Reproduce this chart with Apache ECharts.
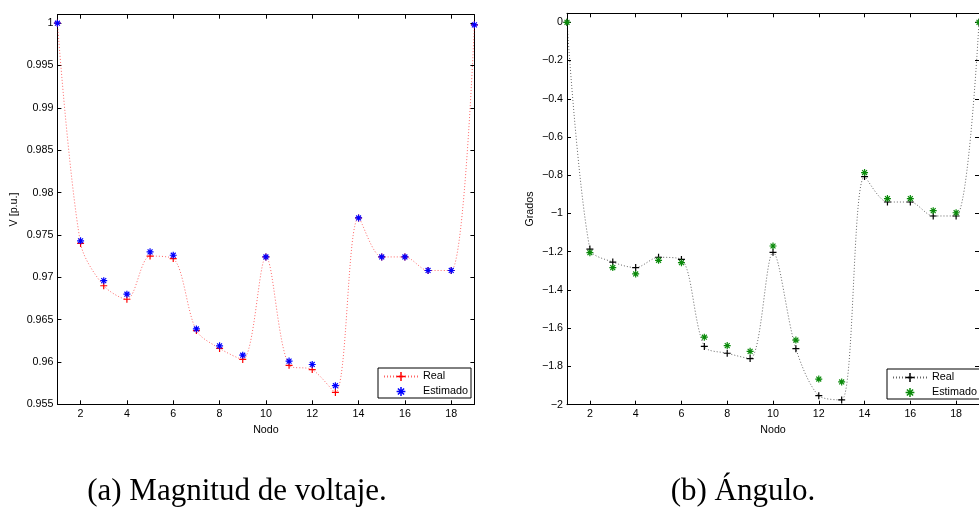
<!DOCTYPE html>
<html><head><meta charset="utf-8">
<script src="https://cdn.jsdelivr.net/npm/echarts@6/dist/echarts.min.js"></script>
<style>html,body{margin:0;padding:0;background:#fff}#c{width:979px;height:508px}</style>
</head><body><div id="c"></div>
<script>
// ---- data ----
const nodes = [1,2,3,4,5,6,7,8,9,10,11,12,13,14,15,16,17,18,19];
const xTicks = [2,4,6,8,10,12,14,16,18];
const vTicks = [0.955,0.96,0.965,0.97,0.975,0.98,0.985,0.99,0.995,1];
const aTicks = [-2,-1.8,-1.6,-1.4,-1.2,-1,-0.8,-0.6,-0.4,-0.2,0];
const vReal = [1.0,0.9740,0.9690,0.9674,0.9725,0.9722,0.9637,0.9616,0.9603,0.9724,0.9596,0.9591,0.9564,0.9770,0.9724,0.9724,0.9708,0.9708,0.9998];
const vEst  = [1.0,0.9743,0.9696,0.9680,0.9730,0.9726,0.9639,0.9619,0.9608,0.9724,0.9601,0.9597,0.9572,0.9770,0.9724,0.9724,0.9708,0.9708,0.9998];
const aReal = [0,-1.186,-1.254,-1.283,-1.229,-1.240,-1.695,-1.731,-1.759,-1.203,-1.707,-1.953,-1.975,-0.807,-0.940,-0.940,-1.013,-1.013,0];
const aEst  = [0,-1.205,-1.283,-1.316,-1.245,-1.257,-1.647,-1.691,-1.721,-1.170,-1.662,-1.866,-1.881,-0.786,-0.922,-0.922,-0.985,-0.996,0];
const seriesNames = ['Real','Estimado'];
const xTitle = 'Nodo';
const yTitles = ['V [p.u.]','Grados'];
const captions = ['(a) Magnitud de voltaje.','(b) Ángulo.'];

// ---- styling ----
const FONT = 'Liberation Sans';
const lbl = {fontFamily: FONT, fontSize: 10.7, color: '#000'};
const PLUS = 'path://M4.15,0L5.85,0L5.85,10L4.15,10ZM0,4.15L10,4.15L10,5.85L0,5.85Z';
const d = 0.6, a = 1.5, b = 8.5;
const STAR = 'path://M4.15,0L5.85,0L5.85,10L4.15,10ZM0,4.15L10,4.15L10,5.85L0,5.85Z' +
  `M${a+d},${a-d}L${b+d},${b-d}L${b-d},${b+d}L${a-d},${a+d}Z` +
  `M${a-d},${b-d}L${b-d},${a-d}L${b+d},${a+d}L${a+d},${b+d}Z`;

const grids = [
  {left: 57.4, top: 14.7, width: 417, height: 389.6},
  {left: 567, top: 13.3, width: 417.5, height: 391.4}
];

function xAx(g, pos) {
  return {
    type: 'value', gridIndex: g, position: pos, min: 1, max: 19,
    axisLine: {show: true, onZero: false, lineStyle: {color: '#000', width: 1}},
    axisTick: {show: true, inside: true, length: 4, customValues: xTicks, lineStyle: {color: '#000'}},
    axisLabel: {show: pos === 'bottom', customValues: xTicks, margin: 4, ...lbl},
    splitLine: {show: false},
    name: pos === 'bottom' ? xTitle : '', nameLocation: 'middle', nameGap: 17, nameTextStyle: lbl
  };
}
function yAx(g, pos, min, max, ticks, fmt, name, gap) {
  return {
    type: 'value', gridIndex: g, position: pos, min: min, max: max,
    axisLine: {show: true, onZero: false, lineStyle: {color: '#000', width: 1}},
    axisTick: {show: true, inside: true, length: 4, customValues: ticks, lineStyle: {color: '#000'}},
    axisLabel: {show: pos === 'left', customValues: ticks, margin: 4, formatter: fmt, ...lbl},
    splitLine: {show: false},
    name: pos === 'left' ? name : '', nameLocation: 'middle', nameRotate: 90, nameGap: gap, nameTextStyle: lbl
  };
}
const fmtV = v => String(+(+v).toFixed(3));
const fmtA = v => String(+(+v).toFixed(1)).replace('-', '\u2212');

const pairs = arr => nodes.map((n, i) => [n, arr[i]]);

function lineSeries(name, xi, yi, arr, color) {
  return {
    type: 'line', name: name, xAxisIndex: xi, yAxisIndex: yi, data: pairs(arr),
    smooth: 0.3, symbol: PLUS, symbolSize: 7, showAllSymbol: true,
    itemStyle: {color: color, borderWidth: 0},
    lineStyle: {color: color, width: 1, type: [1, 2], opacity: 0.6},
    z: 2
  };
}
function markerSeries(name, xi, yi, arr, color) {
  return {
    type: 'line', name: name, xAxisIndex: xi, yAxisIndex: yi, data: pairs(arr),
    symbol: STAR, symbolSize: 7, showAllSymbol: true,
    itemStyle: {color: color, borderWidth: 0, opacity: 1},
    lineStyle: {width: 0, opacity: 0}, z: 3
  };
}
const tag = ' (b)';
function legend(names, left, top) {
  return {
    data: names, left: left, top: top, orient: 'vertical',
    itemWidth: 34, itemHeight: 11, itemGap: 4, padding: [3, 3, 1, 5],
    borderColor: '#000', borderWidth: 1, backgroundColor: '#fff', borderRadius: 0,
    textStyle: {...lbl, fontSize: 10.8}, selectedMode: false,
    formatter: n => n.replace(tag, '')
  };
}

const option = {
  animation: false,
  backgroundColor: '#fff',
  grid: grids,
  xAxis: [xAx(0, 'bottom'), xAx(0, 'top'), xAx(1, 'bottom'), xAx(1, 'top')],
  yAxis: [
    yAx(0, 'left', 0.955, 1.001, vTicks, fmtV, yTitles[0], 38),
    yAx(0, 'right', 0.955, 1.001, vTicks, fmtV, '', 0),
    yAx(1, 'left', -2, 0.047, aTicks, fmtA, yTitles[1], 31),
    yAx(1, 'right', -2, 0.047, aTicks, fmtA, '', 0)
  ],
  legend: [
    legend([seriesNames[0], seriesNames[1]], 378, 368),
    legend([seriesNames[0] + tag, seriesNames[1] + tag], 887, 369)
  ],
  series: [
    lineSeries(seriesNames[0], 0, 0, vReal, '#ff0000'),
    markerSeries(seriesNames[1], 0, 0, vEst, '#0000ff'),
    lineSeries(seriesNames[0] + tag, 2, 2, aReal, '#000000'),
    markerSeries(seriesNames[1] + tag, 2, 2, aEst, '#0a8a0a')
  ],
  graphic: [
    {type: 'text', x: 237, y: 492, style: {text: captions[0], font: '31px "Liberation Serif"', fill: '#000', align: 'center', verticalAlign: 'middle'}},
    {type: 'text', x: 743, y: 492, style: {text: captions[1], font: '31px "Liberation Serif"', fill: '#000', align: 'center', verticalAlign: 'middle'}}
  ]
};
const chart = echarts.init(document.getElementById('c'), null, {renderer: 'canvas'});
chart.setOption(option);
</script>
</body></html>
